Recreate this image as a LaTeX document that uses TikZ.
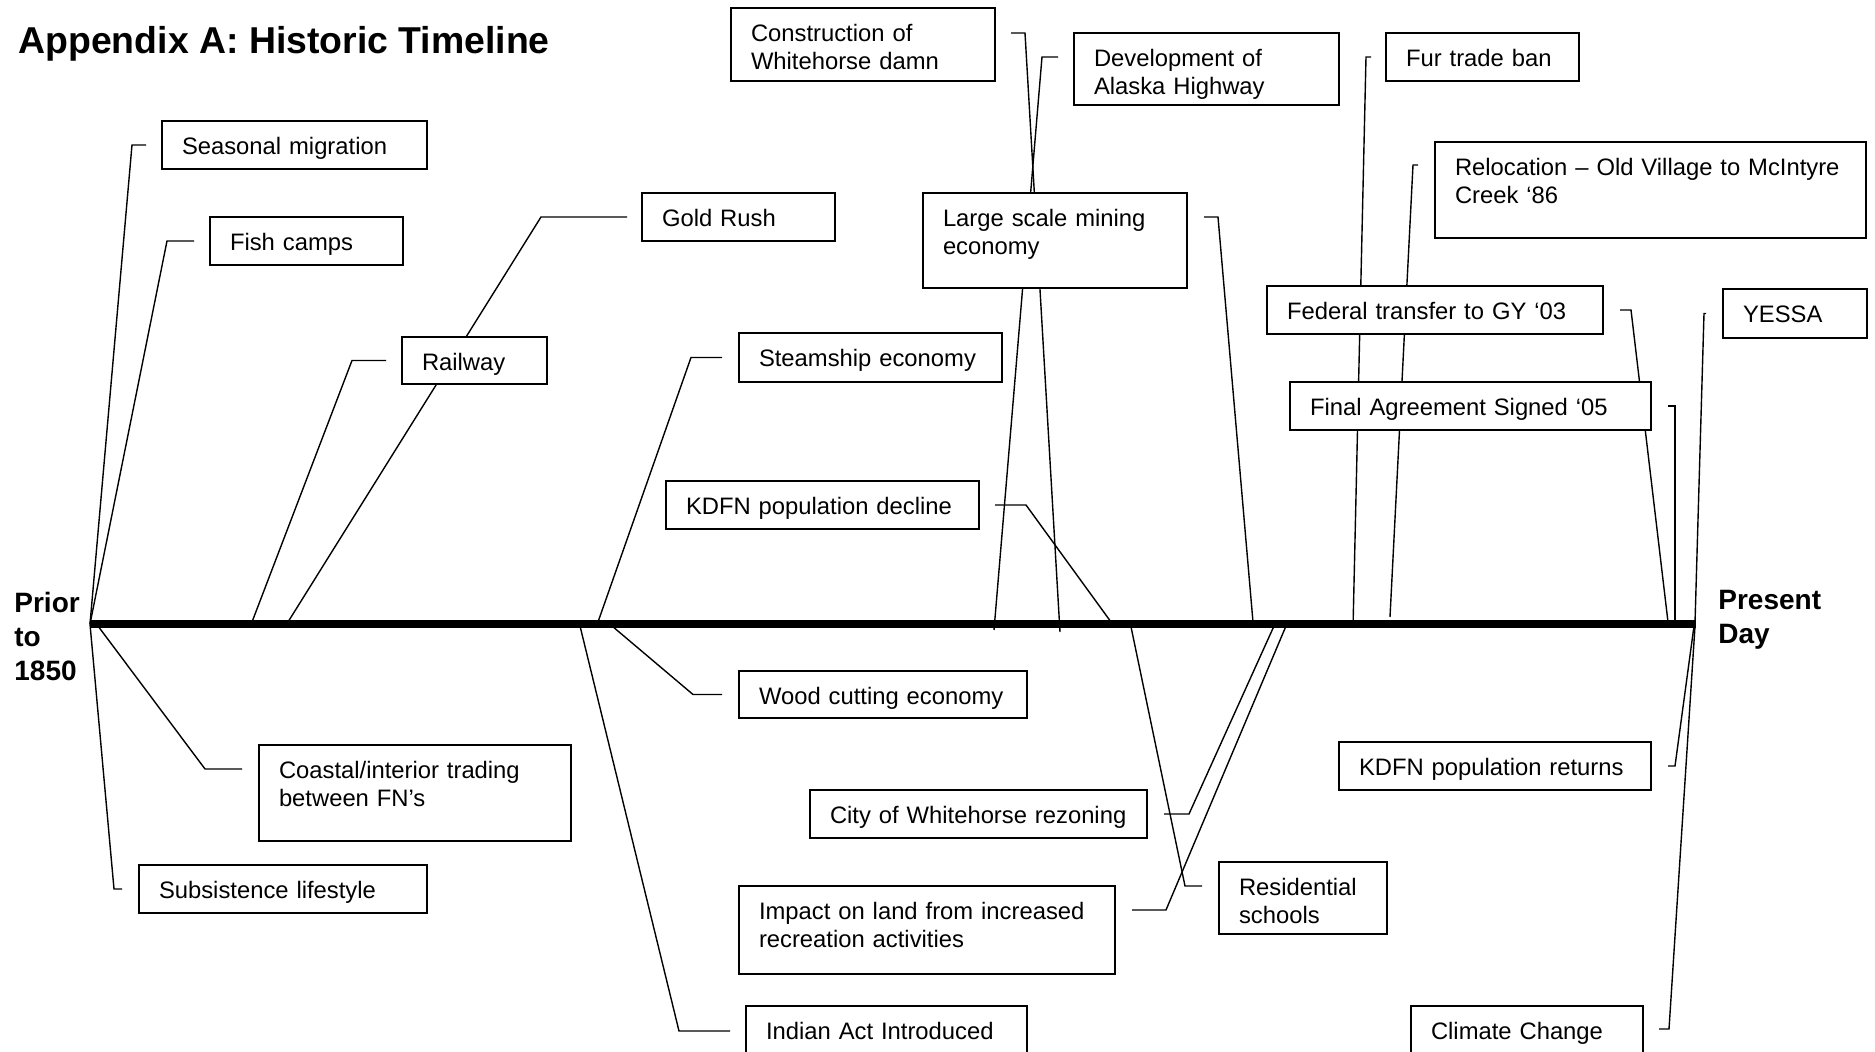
\documentclass[tikz,border=0pt]{standalone}
\usepackage{fontspec}
\setmainfont{Liberation Sans}
\pgfdeclarelayer{back}
\pgfsetlayers{back,main}

\begin{document}
\begin{tikzpicture}[x=0.5pt, y=-0.5pt,
	event/.style={draw, line width=1pt, fill=white, anchor=north west, align=left, inner xsep=10pt, inner ysep=0pt, text height=16.6pt, text depth=7.4pt, font=\fontsize{11.9}{14}\selectfont},
	conn/.style={line width=0.7pt},
	era/.style={anchor=base west, inner sep=0pt, align=left, text width=60pt, font=\fontsize{14}{17}\selectfont\bfseries}]
		\useasboundingbox (0,0) rectangle (1875,1052);

		\draw (18,54) node[anchor=base west, inner sep=0pt, font=\fontsize{18.7}{22}\selectfont\bfseries] (title) {Appendix A: Historic Timeline};

		\coordinate (tStart) at (90,624);
		\coordinate (tEnd) at (1696,624);
		\draw [line width=3.6pt] (tStart) -- (tEnd);
		\draw (14,613) node[era] (prior) {Prior\\to\\1850};
		\draw (1718,610) node[era] (present) {Present\\Day};

		\draw (161,120) node[event, text width=112.5pt] (seasonal) {Seasonal migration};
		\draw (209,216) node[event, text width=76.5pt] (fish) {Fish camps};
		\draw (401,336) node[event, text width=52.5pt, text depth=6.9pt] (railway) {Railway};
		\draw (641,192) node[event, text width=76.5pt] (gold) {Gold Rush};
		\draw (730,7) node[event, text width=112pt, text depth=19.9pt] (construction) {Construction of\\Whitehorse damn};
		\draw (1073,32) node[event, text width=112.5pt, text depth=19.4pt] (development) {Development of\\Alaska Highway};
		\draw (922,192) node[event, text width=112pt, text depth=30.9pt] (mining) {Large scale mining\\economy};
		\draw (738,332) node[event, text width=111.5pt, text depth=7.9pt] (steamship) {Steamship economy};
		\draw (665,480) node[event, text width=136.5pt] (decline) {KDFN population decline};
		\draw (1385,32) node[event, text width=76.5pt] (furtrade) {Fur trade ban};
		\draw (1434,141) node[event, text width=195.5pt, text depth=31.4pt] (relocation) {Relocation – Old Village to McIntyre\\Creek ‘86};
		\draw (1266,285) node[event, text width=148pt] (federal) {Federal transfer to GY ‘03};
		\draw (1722,288) node[event, text width=52pt, text depth=7.9pt] (yessa) {YESSA};
		\draw (1289,381) node[event, text width=160.5pt] (final) {Final Agreement Signed ‘05};

		\draw (258,744) node[event, text width=136pt, text depth=31.4pt] (coastal) {Coastal/interior trading\\between FN’s};
		\draw (138,864) node[event, text width=124pt] (subsistence) {Subsistence lifestyle};
		\draw (738,670) node[event, text width=124pt, text depth=6.9pt] (wood) {Wood cutting economy};
		\draw (809,789) node[event, text width=148.5pt] (rezoning) {City of Whitehorse rezoning};
		\draw (738,885) node[event, text width=168pt, text depth=27.4pt] (impact) {Impact on land from increased\\recreation activities};
		\draw (745,1005) node[event, text width=120.5pt, text depth=8.4pt] (indian) {Indian Act Introduced};
		\draw (1218,861) node[event, text width=64pt, text depth=19.4pt] (residential) {Residential\\schools};
		\draw (1338,741) node[event, text width=136pt] (returns) {KDFN population returns};
		\draw (1410,1005) node[event, text width=96pt, text depth=8.4pt] (climate) {Climate Change};

		\coordinate (aGold) at (288,622);
		\coordinate (aRail) at (252,622);
		\coordinate (aSteam) at (598,622);
		\coordinate (aCons) at (1060,632);
		\coordinate (aDev) at (994,630);
		\coordinate (aMine) at (1253,622);
		\coordinate (aDecline) at (1111,622);
		\coordinate (aFur) at (1353,628);
		\coordinate (aReloc) at (1390,617);
		\coordinate (aFed) at (1668,622);
		\coordinate (aFinal) at (1675,622);
		\coordinate (aYessa) at (1695,623);
		\coordinate (aCoast) at (98,626);
		\coordinate (aWood) at (612,626);
		\coordinate (aIndian) at (580,626);
		\coordinate (aResid) at (1130,622);
		\coordinate (aRezone) at (1274,626);
		\coordinate (aImpact) at (1286,626);
		\coordinate (aReturns) at (1694,626);
		\coordinate (aClimate) at (1695,626);

		\begin{pgfonlayer}{back}
		\draw [conn] (seasonal.west) ++(-15,0) -- ++(-14,0) -- (tStart);
		\draw [conn] (fish.west) ++(-15,0) -- ++(-27,0) -- (tStart);
		\draw [conn] (gold.west) ++(-14,0) -- ++(-86,0) -- (aGold);
		\draw [conn] (railway.west) ++(-15,0) -- ++(-34,0) -- (aRail);
		\draw [conn] (steamship.west) ++(-16,0) -- ++(-31,0) -- (aSteam);
		\draw [conn] (construction.east) ++(15,-11.5) -- ++(14,0) -- (aCons);
		\draw [conn] (development.west) ++(-15,-12) -- ++(-16,0) -- (aDev);
		\draw [conn] (mining.east) ++(16,-23.5) -- ++(14,0) -- (aMine);
		\draw [conn] (decline.east) ++(15,0) -- ++(31,0) -- (aDecline);
		\draw [conn] (furtrade.west) ++(-14,0) -- ++(-5,0) -- (aFur);
		\draw [conn] (relocation.west) ++(-16,-25) -- ++(-5,0) -- (aReloc);
		\draw [conn] (federal.east) ++(16,0) -- ++(11,0) -- (aFed);
		\draw [conn] (final.east) ++(16,0) -- ++(7,0) -- (aFinal);
		\draw [conn] (yessa.west) ++(-16,0) -- ++(-2,0) -- (aYessa);
		\draw [conn] (coastal.west) ++(-16,-24) -- ++(-37,0) -- (aCoast);
		\draw [conn] (subsistence.west) ++(-16,0) -- ++(-8,0) -- (tStart);
		\draw [conn] (wood.west) ++(-16,0) -- ++(-29,0) -- (aWood);
		\draw [conn] (indian.west) ++(-15,0) -- ++(-51,0) -- (aIndian);
		\draw [conn] (residential.west) ++(-16,-12) -- ++(-17,0) -- (aResid);
		\draw [conn] (rezoning.east) ++(16,0) -- ++(25,0) -- (aRezone);
		\draw [conn] (impact.east) ++(16,-20) -- ++(34,0) -- (aImpact);
		\draw [conn] (returns.east) ++(16,0) -- ++(7,0) -- (aReturns);
		\draw [conn] (climate.east) ++(15,-2) -- ++(10,0) -- (aClimate);
		\end{pgfonlayer}
	\end{tikzpicture}
\end{document}
